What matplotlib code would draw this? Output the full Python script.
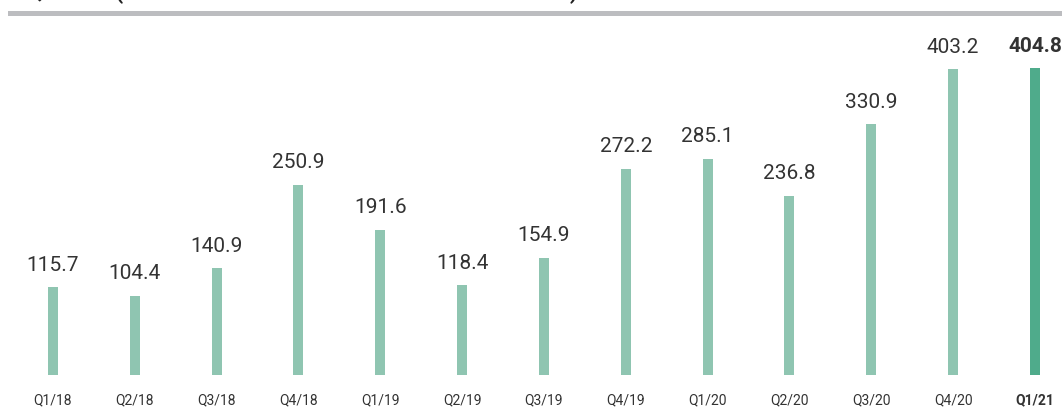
import matplotlib
matplotlib.use("Agg")
import matplotlib.pyplot as plt
from matplotlib.lines import Line2D

quarters = ["Q1/18", "Q2/18", "Q3/18", "Q4/18", "Q1/19", "Q2/19", "Q3/19",
            "Q4/19", "Q1/20", "Q2/20", "Q3/20", "Q4/20", "Q1/21"]
liquidity = [115.7, 104.4, 140.9, 250.9, 191.6, 118.4, 154.9,
             272.2, 285.1, 236.8, 330.9, 403.2, 404.8]
title = "LIQUIDITY (INCLUDING TIME DEPOSITS AND SECURITIES)"

light = "#8fc5b1"
dark = "#4fab8b"
text_col = "#333333"

plt.rcParams['font.family'] = ['Roboto', 'DejaVu Sans']

W, H = 1062, 419
fig = plt.figure(figsize=(W / 100, H / 100), dpi=100)
ax = fig.add_axes([0, 44 / H, 1, 375 / H])

n = len(liquidity)
colors = [light] * (n - 1) + [dark]
x = list(range(n))
ax.bar(x, liquidity, width=0.122, color=colors)

for i, v in enumerate(liquidity):
    last = i == n - 1
    ax.annotate(f"{v:.1f}", (i, v), xytext=(0, 9), textcoords="offset points",
                ha="center", va="bottom", fontsize=15, color=text_col,
                fontweight="bold" if last else "normal")

ax.set_xlim(-53 / 81.83, (W - 53) / 81.83)
ax.set_ylim(0, 375 / 0.758)
ax.set_xticks(x)
ax.set_xticklabels(quarters, fontsize=10, color=text_col)
ax.get_xticklabels()[-1].set_fontweight("bold")
ax.tick_params(axis="x", length=0, pad=13)
ax.set_yticks([])
for s in ax.spines.values():
    s.set_visible(False)

# header rule and title (clipped by the top edge, as in the source)
fig.add_artist(Line2D([10 / W, 1], [1 - 13 / H, 1 - 13 / H], color="#bcbdc0",
                      linewidth=3.6, transform=fig.transFigure))
fig.text(10 / W, 1 - 4 / H, title, fontsize=15.5, fontweight="bold",
         color="#222222", va="bottom", ha="left")

fig.savefig("out.png", dpi=100)
